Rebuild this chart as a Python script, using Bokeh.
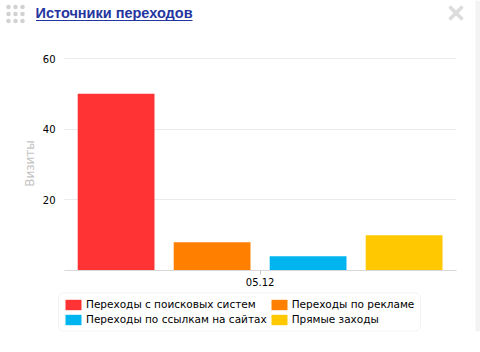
import math
from bokeh.plotting import figure
from bokeh.models import (ColumnDataSource, Range1d, FixedTicker, Legend, LegendItem,
                          BoxAnnotation, Label, Arrow)
from bokeh.embed import file_html
from bokeh.resources import INLINE

# ---- data ----
date_label = "05.12"
series_names = ["Переходы с поисковых систем", "Переходы по рекламе",
                "Переходы по ссылкам на сайтах", "Прямые заходы"]
visits = [50, 8, 4, 10]
colors = ["#ff3333", "#ff8000", "#00b4f0", "#ffc800"]
y_ticks = [0, 20, 40, 60]
title_text = "Источники переходов"
y_axis_title = "Визиты"

# ---- layout constants (pixels) ----
W, H = 480, 352
FL, FB = 2, 21                # frame left / bottom border
FRAME_BOTTOM = H - FB         # 331
PLOT_L, PLOT_R = 64, 456      # visible plot area
ZERO_Y, TOP_Y = 270, 58       # pixel rows of y=0 and y=60
KX = 96.0                     # px per category
FIRST_CENTER = 115.6
KY = (ZERO_Y - TOP_Y) / 60.0
YLAB_STANDOFF = -12
YLAB_RIGHT = 55

x_start = -(FIRST_CENTER - FL) / KX
x_end = x_start + (W - FL) / KX
y_start = -(FRAME_BOTTOM - ZERO_Y) / KY
y_end = ZERO_Y / KY

def px_x(px):
    return x_start + (px - FL) / KX

def px_y(py):
    return (ZERO_Y - py) / KY

p = figure(width=W, height=H, output_backend="svg", toolbar_location=None, title=None,
           x_range=Range1d(x_start, x_end), y_range=Range1d(y_start, y_end),
           min_border_left=FL, min_border_right=0, min_border_top=0, min_border_bottom=FB)
p.border_fill_color = "white"
p.background_fill_color = "white"
p.outline_line_color = None

src = ColumnDataSource(dict(x=list(range(len(visits))), top=visits, color=colors, name=series_names))
r = p.vbar(x="x", top="top", bottom=0, width=0.8, fill_color="color", line_color=None, source=src)

X0, X1 = px_x(PLOT_L), px_x(PLOT_R)

p.yaxis.fixed_location = px_x(YLAB_RIGHT + YLAB_STANDOFF)
p.yaxis.ticker = FixedTicker(ticks=y_ticks)
p.yaxis.major_label_overrides = {0: ""}
p.yaxis.axis_line_color = None
p.yaxis.major_tick_line_color = None
p.yaxis.minor_tick_line_color = None
p.yaxis.major_tick_out = 0
p.yaxis.major_tick_in = 0
p.yaxis.minor_tick_out = 0
p.yaxis.major_label_standoff = YLAB_STANDOFF
p.yaxis.major_label_text_font = "DejaVu Sans"
p.yaxis.major_label_text_font_size = "10px"
p.yaxis.major_label_text_color = "#000000"

mid = (len(visits) - 1) / 2
p.xaxis.fixed_location = 0
p.xaxis.bounds = (X0, X1)
p.xaxis.ticker = FixedTicker(ticks=[mid])
p.xaxis.major_label_overrides = {mid: date_label}
p.xaxis.axis_line_color = "#d8d8d8"
p.xaxis.major_tick_line_color = "#c8c8c8"
p.xaxis.major_tick_out = 4
p.xaxis.major_tick_in = 0
p.xaxis.minor_tick_line_color = None
p.xaxis.minor_tick_out = 0
p.xaxis.major_label_standoff = 3
p.xaxis.major_label_text_font = "DejaVu Sans"
p.xaxis.major_label_text_font_size = "10px"
p.xaxis.major_label_text_color = "#000000"

p.xgrid.visible = False
p.ygrid.grid_line_color = "#ebebeb"

# masks so grid lines span only the plot area
p.add_layout(BoxAnnotation(right=X0, bottom=-0.3, top=px_y(40), fill_color="white", fill_alpha=1,
                           line_color=None, level="glyph"))
p.add_layout(BoxAnnotation(left=X1, bottom=-0.3, top=px_y(40), fill_color="white", fill_alpha=1,
                           line_color=None, level="glyph"))
# light page strip at the right
p.add_layout(BoxAnnotation(left=px_x(475), fill_color="#f3f3f3", fill_alpha=1, line_color=None,
                           level="annotation"))

# y-axis title
p.add_layout(Label(x=px_x(29.5), y=px_y(163), text=y_axis_title, angle=math.pi / 2,
                   text_align="center", text_baseline="middle", text_font="DejaVu Sans",
                   text_font_size="12px", text_color="#c4c4c4"))

# header: grip dots, title with underline, close cross
for cx in (8, 15, 22):
    for cy in (6.5, 13.5, 20.5):
        p.add_layout(BoxAnnotation(left=px_x(cx - 2.2), right=px_x(cx + 2.2),
                                   top=px_y(cy - 2.2), bottom=px_y(cy + 2.2),
                                   fill_color="#d2d2d2", fill_alpha=1, line_color=None,
                                   border_radius=2, level="annotation"))
p.add_layout(Label(x=px_x(35), y=px_y(12.4), text=title_text, text_font="Liberation Sans",
                   text_font_size="14.5px", text_font_style="bold", text_color="#25359f",
                   text_baseline="middle", text_align="left"))
p.add_layout(BoxAnnotation(left=px_x(35.5), right=px_x(192), top=px_y(19.5), bottom=px_y(20.5),
                           fill_color="#25359f", fill_alpha=1, line_color=None, level="annotation"))
for (x0, y0, x1, y1) in ((449, 6, 462, 19), (462, 6, 449, 19)):
    p.add_layout(Arrow(end=None, x_start=px_x(x0), y_start=px_y(y0), x_end=px_x(x1), y_end=px_y(y1),
                       line_color="#dcdcdc", line_width=3.5))

# legend frame
p.add_layout(BoxAnnotation(left=px_x(58), right=px_x(420), top=px_y(292.5), bottom=px_y(330.5),
                           fill_color="white", fill_alpha=1, line_color="#d6d6d6", line_width=1,
                           border_radius=5, level="annotation"))

leg = Legend(items=[LegendItem(label=series_names[i], renderers=[r], index=i) for i in range(len(series_names))],
             ncols=2, location=(63 - FL, FRAME_BOTTOM - 325.5), orientation="horizontal",
             border_line_color=None, background_fill_alpha=0,
             padding=5, margin=0, spacing=2, label_standoff=3,
             glyph_width=20, glyph_height=13, label_height=13,
             label_text_font="DejaVu Sans", label_text_font_size="10.5px", label_text_color="#000000")
p.add_layout(leg)

open("out.html", "w").write(file_html(p, INLINE))
